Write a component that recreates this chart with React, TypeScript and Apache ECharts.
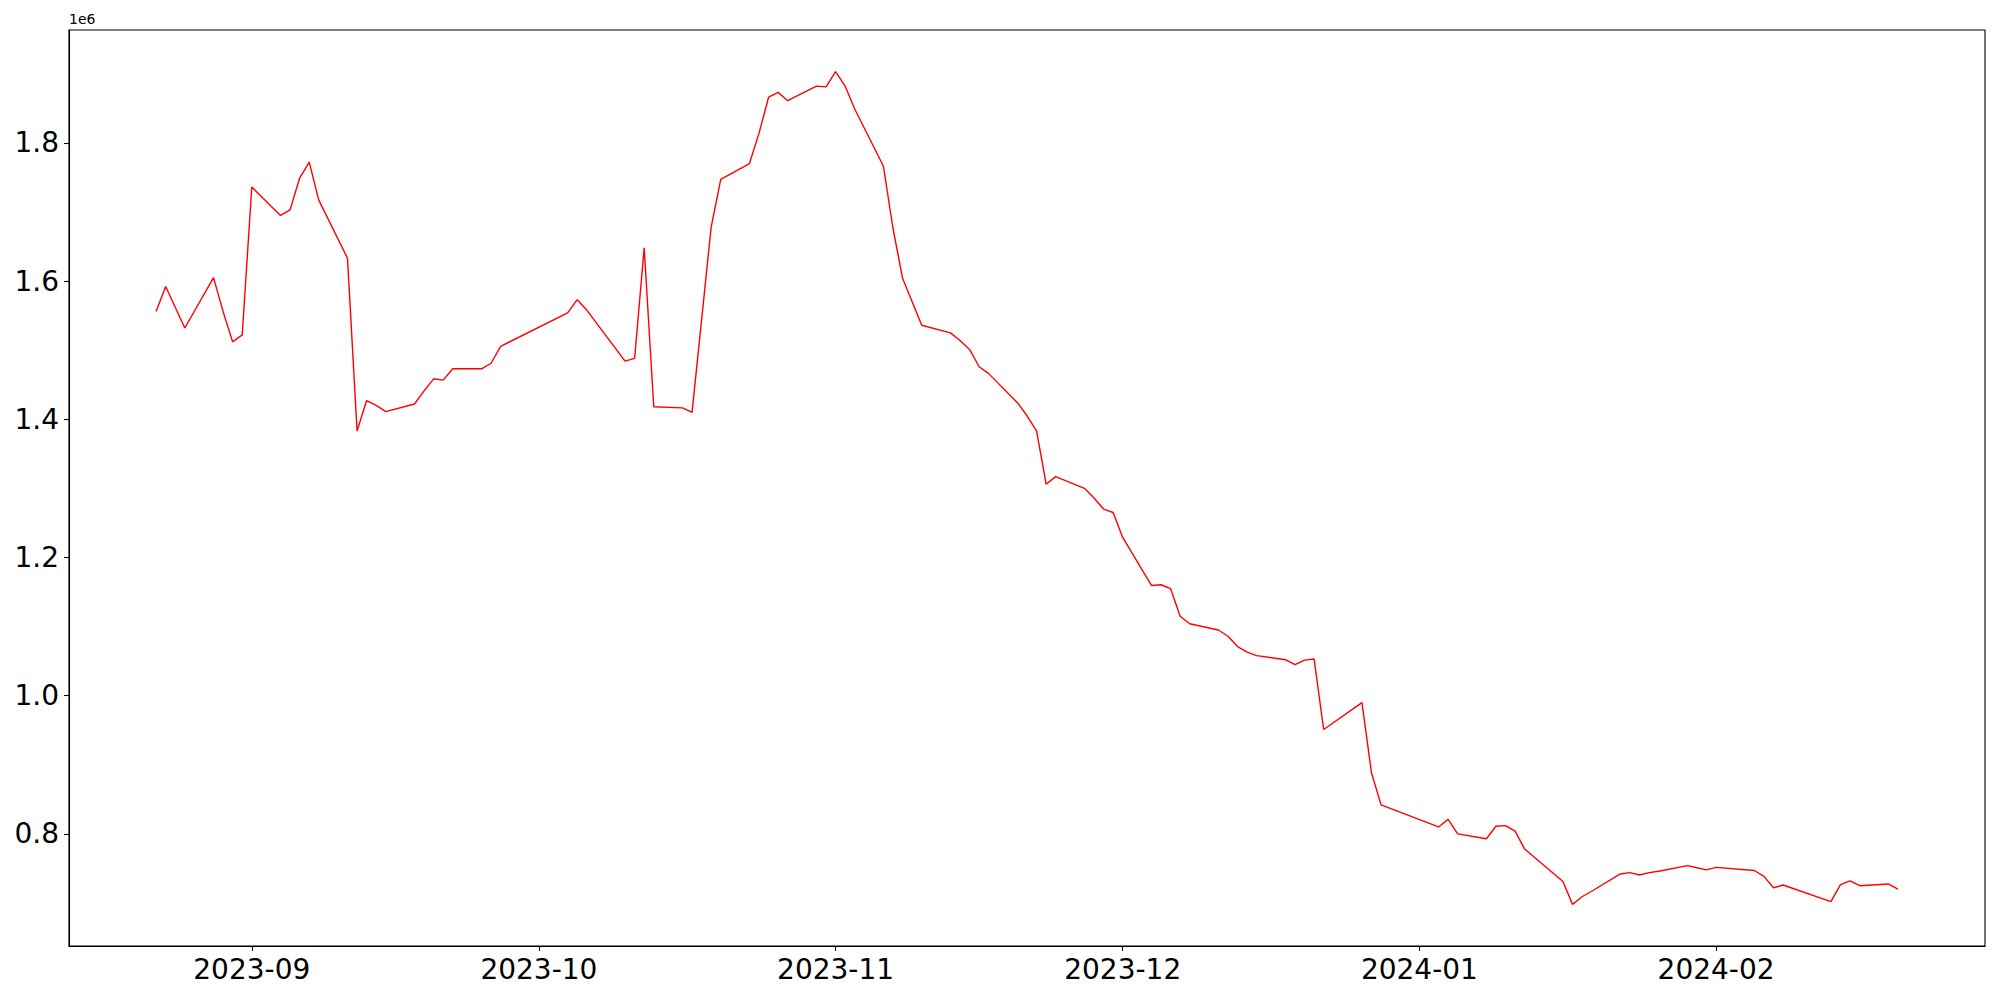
import React, { useEffect, useRef } from "react";
import * as echarts from "echarts";

const dates: string[] = [
  "2023-08-22", "2023-08-23", "2023-08-25", "2023-08-28", "2023-08-29", "2023-08-30", "2023-08-31",
  "2023-09-01", "2023-09-04", "2023-09-05", "2023-09-06", "2023-09-07", "2023-09-08",
  "2023-09-11", "2023-09-12", "2023-09-13", "2023-09-14", "2023-09-15",
  "2023-09-18", "2023-09-19", "2023-09-20", "2023-09-21", "2023-09-22",
  "2023-09-25", "2023-09-26", "2023-09-27",
  "2023-10-04", "2023-10-05", "2023-10-06",
  "2023-10-10", "2023-10-11", "2023-10-12", "2023-10-13",
  "2023-10-16", "2023-10-17", "2023-10-19", "2023-10-20",
  "2023-10-23", "2023-10-24", "2023-10-25", "2023-10-26", "2023-10-27",
  "2023-10-30", "2023-10-31", "2023-11-01", "2023-11-02", "2023-11-03",
  "2023-11-06", "2023-11-07", "2023-11-08", "2023-11-10",
  "2023-11-13", "2023-11-14", "2023-11-15", "2023-11-16", "2023-11-17",
  "2023-11-20", "2023-11-21", "2023-11-22", "2023-11-23", "2023-11-24",
  "2023-11-27", "2023-11-28", "2023-11-29", "2023-11-30", "2023-12-01",
  "2023-12-04", "2023-12-05", "2023-12-06", "2023-12-07", "2023-12-08",
  "2023-12-11", "2023-12-12", "2023-12-13", "2023-12-14", "2023-12-15",
  "2023-12-18", "2023-12-19", "2023-12-20", "2023-12-21", "2023-12-22",
  "2023-12-26", "2023-12-27", "2023-12-28",
  "2024-01-03", "2024-01-04", "2024-01-05",
  "2024-01-08", "2024-01-09", "2024-01-10", "2024-01-11", "2024-01-12",
  "2024-01-16", "2024-01-17", "2024-01-18", "2024-01-19",
  "2024-01-22", "2024-01-23", "2024-01-24", "2024-01-25", "2024-01-26",
  "2024-01-29", "2024-01-30", "2024-01-31", "2024-02-01",
  "2024-02-05", "2024-02-06", "2024-02-07", "2024-02-08",
  "2024-02-13", "2024-02-14", "2024-02-15", "2024-02-16",
  "2024-02-19", "2024-02-20",
];

const values: number[] = [
  1556000, 1592000, 1532000, 1605000, 1556000, 1512000, 1522000,
  1736000, 1695000, 1703000, 1749000, 1772000, 1717000,
  1633000, 1383000, 1427000, 1420000, 1411000,
  1422000, 1441000, 1458500, 1456600, 1473000,
  1473000, 1481000, 1505500,
  1554000, 1573000, 1558000,
  1484000, 1488000, 1648000, 1418000,
  1416500, 1410000, 1678000, 1747000,
  1770000, 1814000, 1866000, 1873000, 1861000,
  1882000, 1881000, 1903000, 1882000, 1849000,
  1766000, 1676000, 1604000, 1536000,
  1525000, 1514000, 1501000, 1476000, 1466000,
  1424000, 1405000, 1383000, 1306000, 1317000,
  1300000, 1286000, 1270000, 1265000, 1229000,
  1159500, 1160500, 1155000, 1115000, 1104000,
  1095000, 1086000, 1071000, 1063000, 1058000,
  1052000, 1045000, 1051500, 1053000, 951000,
  990000, 888000, 842000,
  810000, 821000, 800000,
  793000, 811000, 812000, 804000, 778000,
  731000, 698000, 709000, 717000,
  742000, 744000, 740500, 744000, 746000,
  754000, 751000, 748000, 751500,
  747000, 738500, 722000, 726000,
  702000, 726500, 732000, 725000,
  727500, 720000,
];

const xTickLabels: string[] = ["2023-09", "2023-10", "2023-11", "2023-12", "2024-01", "2024-02"];
const yTickValues: number[] = [800000, 1000000, 1200000, 1400000, 1600000, 1800000];
const yOffsetLabel = "1e6";

function toTs(s: string): number {
  const parts = s.split("-").map(Number);
  return Date.UTC(parts[0], parts[1] - 1, parts[2] || 1);
}

export default function App() {
  const ref = useRef<HTMLDivElement>(null);
  useEffect(() => {
    if (!ref.current) return;
    const chart = echarts.init(ref.current, null, { renderer: "svg" });
    const xs = dates.map(toTs);
    const xMin0 = Math.min(...xs);
    const xMax0 = Math.max(...xs);
    const xPad = (xMax0 - xMin0) * 0.05;
    const yMin0 = Math.min(...values);
    const yMax0 = Math.max(...values);
    const yPad = (yMax0 - yMin0) * 0.05;
    const font = "DejaVu Sans";
    const xTickTs = xTickLabels.map(toTs);

    chart.setOption({
      animation: false,
      backgroundColor: "#ffffff",
      grid: {
        left: 69,
        right: 15,
        top: 30,
        bottom: 54,
        show: true,
        borderColor: "#000000",
        borderWidth: 1.1,
        backgroundColor: "transparent",
        containLabel: false,
      },
      xAxis: {
        type: "value",
        min: xMin0 - xPad,
        max: xMax0 + xPad,
        axisLine: { show: true, onZero: false, lineStyle: { color: "#000000", width: 1.1 } },
        axisTick: {
          show: true,
          length: 5,
          lineStyle: { color: "#000000", width: 1.1 },
          customValues: xTickTs,
        },
        axisLabel: {
          customValues: xTickTs,
          formatter: (v: number) => {
            let best = 0;
            for (let i = 0; i < xTickTs.length; i++) {
              if (Math.abs(xTickTs[i] - v) < Math.abs(xTickTs[best] - v)) best = i;
            }
            return xTickLabels[best];
          },
          fontSize: 28,
          color: "#000000",
          fontFamily: font,
          margin: 9,
        },
        splitLine: { show: false },
      },
      yAxis: {
        type: "value",
        min: yMin0 - yPad,
        max: yMax0 + yPad,
        name: yOffsetLabel,
        nameLocation: "end",
        nameGap: 4,
        nameTextStyle: {
          align: "left",
          verticalAlign: "bottom",
          fontSize: 14,
          fontFamily: font,
          color: "#000000",
        },
        axisLine: { show: true, onZero: false, lineStyle: { color: "#000000", width: 1.1 } },
        axisTick: {
          show: true,
          length: 5,
          lineStyle: { color: "#000000", width: 1.1 },
          customValues: yTickValues,
        },
        axisLabel: {
          customValues: yTickValues,
          formatter: (v: number) => (v / 1e6).toFixed(1),
          fontSize: 28,
          color: "#000000",
          fontFamily: font,
          margin: 10,
        },
        splitLine: { show: false },
      },
      series: [
        {
          type: "line",
          data: xs.map((x, i) => [x, values[i]]),
          showSymbol: false,
          symbol: "none",
          lineStyle: { color: "#ff0000", width: 1.4 },
          itemStyle: { color: "#ff0000" },
        },
      ],
    });
    return () => chart.dispose();
  }, []);
  return (
    <div
      ref={ref}
      style={{ position: "fixed", left: 0, top: 0, width: 2000, height: 1000, background: "#ffffff" }}
    />
  );
}
